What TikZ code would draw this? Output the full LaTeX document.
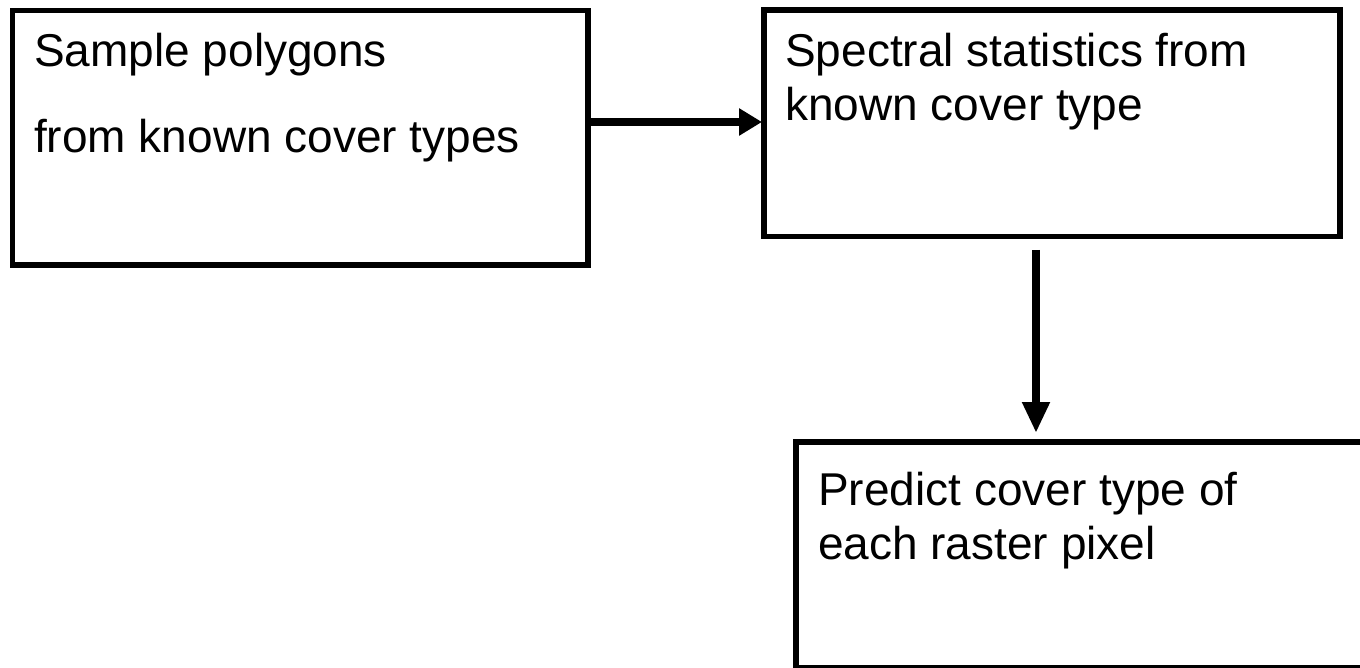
\documentclass[tikz,border=0pt]{standalone}
\usepackage{fontspec}
\setmainfont{Liberation Sans}
\usetikzlibrary{arrows.meta}
\begin{document}
\begin{tikzpicture}[x=1pt,y=-1pt,
  box/.style={draw=black,line width=5.5pt,fill=none,inner sep=0pt,outer sep=0pt},
  txt/.style={anchor=base west,inner sep=0pt,font=\fontsize{46}{52}\selectfont},
  conn/.style={line width=8pt,draw=black}]
\clip (0,0) rectangle (1360,668);
\fill[white] (0,0) rectangle (1360,668);
\node[box,minimum width=575.5pt,minimum height=254.5pt] (b1) at (300.25,137.75) {};
\node[box,minimum width=576pt,minimum height=226.5pt] (b2) at (1052,123.25) {};
\node[box,minimum width=576pt,minimum height=226pt] (b3) at (1084,555) {};
\node[txt] (t1a) at (34,67) {Sample polygons};
\node[txt] (t1b) at (34,153) {from known cover types};
\node[txt] (t2a) at (785,67) {Spectral statistics from};
\node[txt] (t2b) at (785,121) {known cover type};
\node[txt] (t3a) at (818,505) {Predict cover type of};
\node[txt] (t3b) at (818,559) {each raster pixel};
\draw[conn,-{Triangle[length=23pt,width=26pt]},shorten >=2pt] (b1.east |- 0,122) -- (b2.west |- 0,122);
\draw[conn,-{Triangle[length=31pt,width=26pt]},shorten <=13.5pt,shorten >=9pt] (b2.south -| 1036,0) -- (b3.north -| 1036,0);
\end{tikzpicture}
\end{document}
